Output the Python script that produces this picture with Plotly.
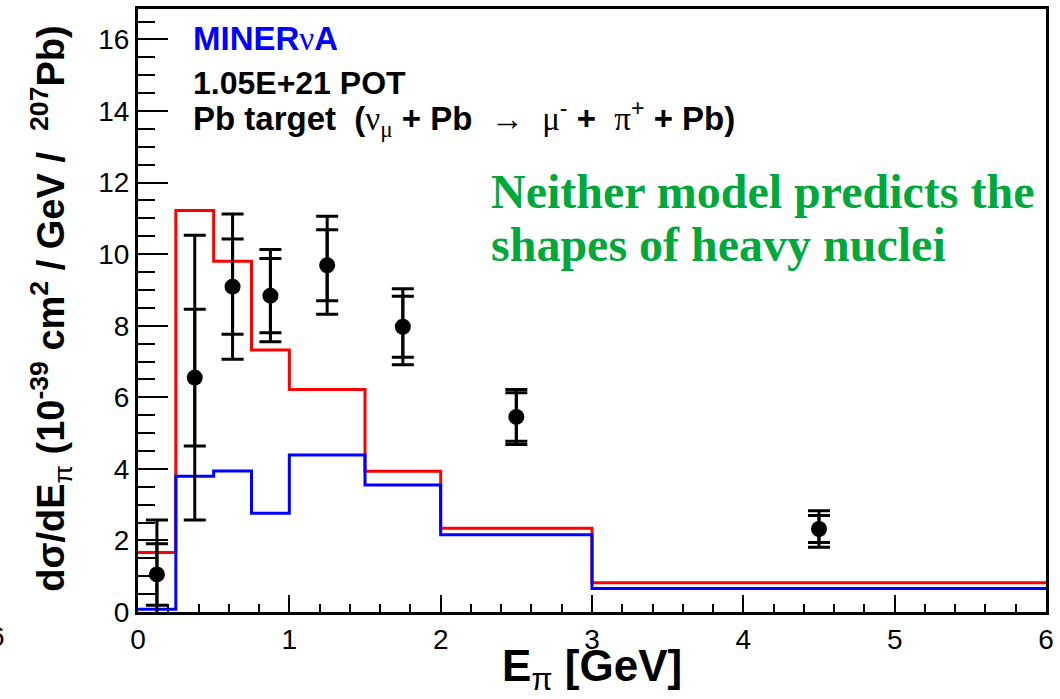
import plotly.graph_objects as go

# Pion energy bins (GeV)
bin_edges = [0.0, 0.25, 0.5, 0.75, 1.0, 1.5, 2.0, 3.0, 6.0]
# Model predictions per bin, 10^-39 cm^2 / GeV / 207Pb
model_red = [1.66, 11.22, 9.80, 7.32, 6.22, 3.93, 2.34, 0.82]
model_blue = [0.08, 3.79, 3.94, 2.76, 4.39, 3.55, 2.16, 0.66]
# Measured cross section with statistical and total uncertainties
data_x = [0.125, 0.375, 0.625, 0.875, 1.25, 1.75, 2.5, 4.5]
data_y = [1.05, 6.55, 9.09, 8.84, 9.69, 7.97, 5.45, 2.32]
stat_err = [0.86, 1.91, 1.33, 1.04, 0.99, 0.85, 0.68, 0.38]
total_err = [1.52, 3.98, 2.03, 1.29, 1.37, 1.06, 0.77, 0.51]

X_RANGE = [0, 6]
Y_RANGE = [0, 16.85]

W, H = 1060, 699
M_L, M_R, M_T, M_B = 138, 6, 9, 87
PW = W - M_L - M_R
PH = H - M_T - M_B


def px_x(px):
    return (px - M_L) / PW


def px_y(py):
    return (H - M_B - py) / PH


def step(values):
    return values + [values[-1]]


fig = go.Figure()

fig.add_trace(go.Scatter(
    x=bin_edges, y=step(model_red), mode="lines", line_shape="hv",
    line=dict(color="#ff0000", width=3), showlegend=False, hoverinfo="skip"))
fig.add_trace(go.Scatter(
    x=bin_edges, y=step(model_blue), mode="lines", line_shape="hv",
    line=dict(color="#0000ff", width=3), showlegend=False, hoverinfo="skip"))

# outer (total) error bars
fig.add_trace(go.Scatter(
    x=data_x, y=data_y, mode="markers",
    marker=dict(size=1, color="rgba(0,0,0,0)"),
    error_y=dict(type="data", array=total_err, visible=True,
                 color="black", thickness=3, width=11),
    showlegend=False, hoverinfo="skip"))
# inner (statistical) error bars with the data points
fig.add_trace(go.Scatter(
    x=data_x, y=data_y, mode="markers",
    marker=dict(size=16, color="black", symbol="circle"),
    error_y=dict(type="data", array=stat_err, visible=True,
                 color="black", thickness=3, width=11),
    showlegend=False))

tickfont = dict(family="Liberation Sans, Arial, sans-serif", size=28, color="black")

fig.update_xaxes(
    range=X_RANGE, showgrid=False, zeroline=False,
    showline=True, linecolor="black", linewidth=3, mirror=True,
    ticks="inside", ticklen=17, tickwidth=2, tickcolor="black",
    tick0=0, dtick=1, tickfont=tickfont, ticklabelstandoff=0,
    minor=dict(ticks="inside", dtick=0.2, ticklen=8, tickwidth=2, tickcolor="black"),
)
fig.update_yaxes(
    range=Y_RANGE, showgrid=False, zeroline=False,
    showline=True, linecolor="black", linewidth=3, mirror=True,
    ticks="inside", ticklen=30, tickwidth=2, tickcolor="black",
    tick0=0, dtick=2, tickfont=tickfont, ticklabelstandoff=0,
    minor=dict(ticks="inside", dtick=0.5, ticklen=17, tickwidth=2, tickcolor="black"),
)

SANS = "Liberation Sans, Arial, sans-serif"
SERIF_SPAN = "<span style=\"font-family:'Liberation Serif'\">%s</span>"
NB = "\u00a0"

annotations = [
    # axis titles
    dict(text="<b>E</b><sub>π</sub><b>" + NB + "[GeV]</b>",
         x=px_x(596), y=px_y(669), xanchor="center",
         font=dict(family=SANS, size=44, color="black")),
    dict(text="<b>dσ/dE</b><sub>π</sub><b>" + NB + "(10<sup>-39</sup> cm<sup>2</sup> / GeV /" + NB + NB
         + "<sup>207</sup>Pb)</b>",
         x=px_x(50), y=px_y(309), xanchor="center", textangle=-90,
         font=dict(family=SANS, size=38, color="black")),
    # experiment labels
    dict(text="<b>MINER</b>" + (SERIF_SPAN % "ν") + "<b>A</b>",
         x=px_x(191), y=px_y(38), xanchor="left",
         font=dict(family=SANS, size=33, color="#0000ff")),
    dict(text="<b>1.05E+21 POT</b>",
         x=px_x(191), y=px_y(83), xanchor="left",
         font=dict(family=SANS, size=32, color="black")),
    dict(text="<b>Pb target" + NB + NB + "(</b>" + (SERIF_SPAN % "ν") + "<sub>" + (SERIF_SPAN % "μ")
         + "</sub><b> + Pb </b>" + NB + "→" + NB + NB + (SERIF_SPAN % "μ") + "<sup>-</sup><b> + </b>" + NB
         + (SERIF_SPAN % "π") + "<sup>+</sup><b> + Pb)</b>",
         x=px_x(191), y=px_y(119), xanchor="left",
         font=dict(family=SANS, size=33, color="black")),
    # commentary
    dict(text="<b>Neither model predicts the</b>",
         x=px_x(492), y=px_y(192), xanchor="left",
         font=dict(family="Liberation Serif, Times New Roman, serif", size=48, color="#00a83c")),
    dict(text="<b>shapes of heavy nuclei</b>",
         x=px_x(492), y=px_y(244), xanchor="left",
         font=dict(family="Liberation Serif, Times New Roman, serif", size=48, color="#00a83c")),
    # tick label of the neighbouring panel at the left border
    dict(text="6", x=px_x(6), y=px_y(636), xanchor="right",
         font=dict(family=SANS, size=28, color="black")),
]
for a in annotations:
    a.setdefault("xref", "paper")
    a.setdefault("yref", "paper")
    a.setdefault("showarrow", False)
    a.setdefault("yanchor", "middle")
fig.update_layout(annotations=annotations)

fig.update_layout(
    width=W, height=H,
    margin=dict(l=M_L, r=M_R, t=M_T, b=M_B, pad=0),
    paper_bgcolor="white", plot_bgcolor="white",
    showlegend=False,
)

fig.write_html("out.html")
